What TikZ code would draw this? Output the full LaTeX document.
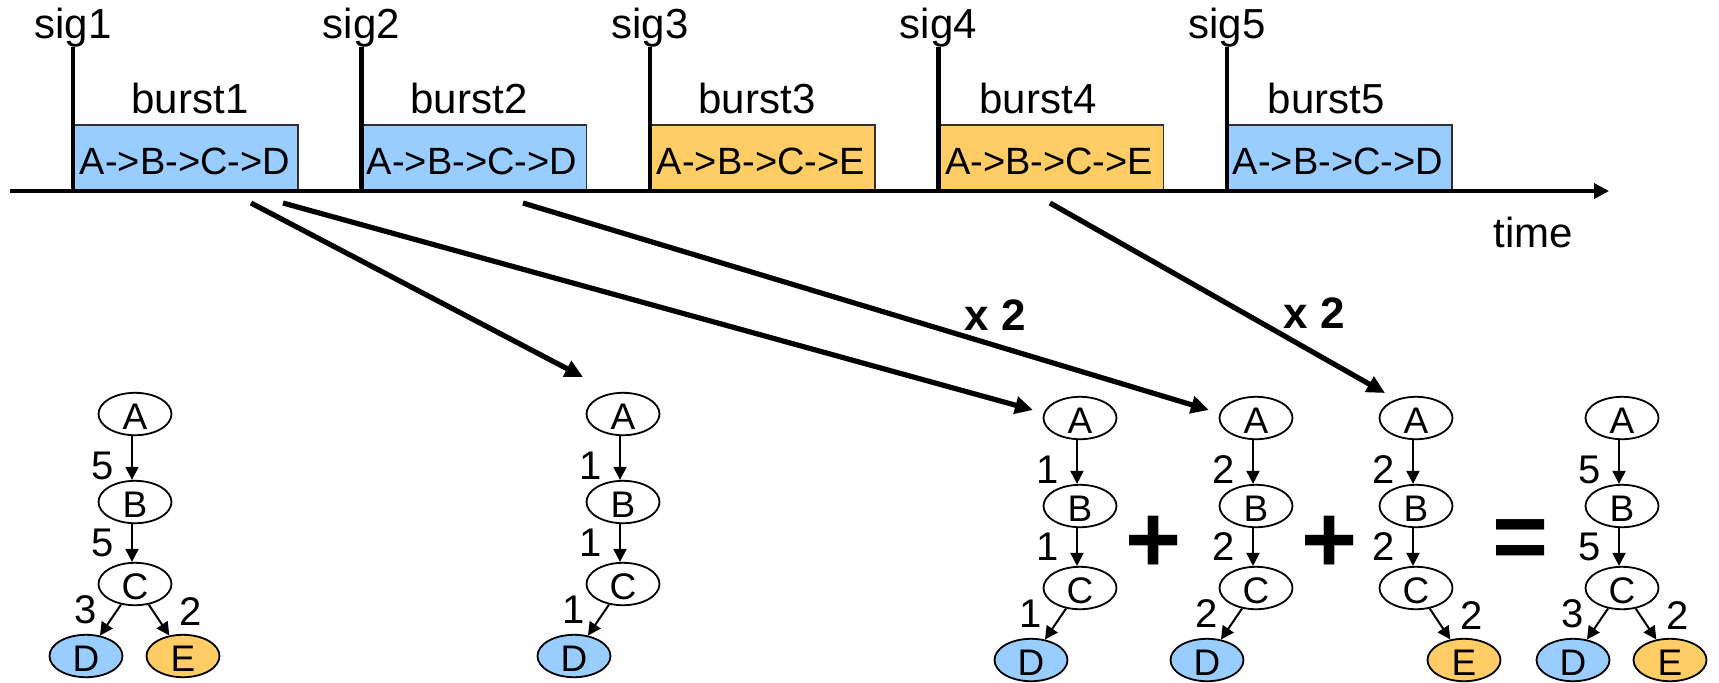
\documentclass[tikz,border=0pt]{standalone}
\usepackage{fontspec}
\setmainfont{Liberation Sans}
\usetikzlibrary{arrows.meta,shapes.geometric,calc}

\definecolor{burstblue}{HTML}{99CCFF}
\definecolor{burstorange}{HTML}{FFCC66}
\definecolor{boxedge}{HTML}{303030}

\tikzset{
  sigline/.style={line width=2.25pt},
  timeaxis/.style={line width=1.75pt, -{Triangle[length=7.5pt,width=7.5pt]}},
  burstbox/.style={draw=boxedge, line width=0.8pt, rectangle, inner sep=0pt,
                   minimum width=112pt, minimum height=32.5pt, anchor=south west},
  toplabel/.style={font=\fontsize{21}{25}\selectfont, anchor=base, inner sep=0pt},
  pathlabel/.style={font=\fontsize{19}{23}\selectfont, anchor=base, inner sep=0pt},
  state/.style={ellipse, draw, line width=0.9pt, minimum width=36.5pt,
                minimum height=19.5pt, inner sep=0pt,
                font=\fontsize{18.5}{21}\selectfont, text height=15pt, text depth=0pt},
  dnode/.style={state, fill=burstblue},
  enode/.style={state, fill=burstorange},
  flow/.style={line width=1pt, -{Triangle[length=6.5pt,width=6.5pt]}},
  weight/.style={font=\fontsize{20}{23}\selectfont, inner sep=0pt},
  bigarrow/.style={line width=2.6pt, -{Triangle[length=9pt,width=8.5pt]}},
  factor/.style={font=\bfseries\fontsize{22}{26}\selectfont, inner sep=0pt},
  op/.style={font=\bfseries\fontsize{48}{56}\selectfont, inner sep=0pt},
}

% A -> B -> C chain: prefix, x, y, weight A->B, weight B->C
\newcommand{\chainABC}[5]{%
  \node[state] (#1A) at (#2,#3) {A};
  \node[state] (#1B) at (#2,#3+88) {B};
  \node[state] (#1C) at (#2,#3+170) {C};
  \draw[flow] ([xshift=-1.5pt]#1A.south) -- ([xshift=-1.5pt]#1B.north);
  \draw[flow] ([xshift=-1.5pt]#1B.south) -- ([xshift=-1.5pt]#1C.north);
  \node[weight] (#1wab) at (#2-32,#3+52) {#4};
  \node[weight] (#1wbc) at (#2-32,#3+129) {#5};
}
% leaf D below C: prefix, x, y, weight
\newcommand{\leafD}[4]{%
  \node[dnode] (#1D) at (#2-49,#3+242) {D};
  \draw[flow] (#1C) -- (#1D);
  \node[weight] (#1wcd) at (#2-49,#3+196) {#4};
}
% leaf E below C: prefix, x, y, weight
\newcommand{\leafE}[4]{%
  \node[enode] (#1E) at (#2+48,#3+242) {E};
  \draw[flow] (#1C) -- (#1E);
  \node[weight] (#1wce) at (#2+56,#3+198) {#4};
}

\begin{document}
\begin{tikzpicture}[x=0.5pt,y=-0.5pt]
\useasboundingbox (0,0) rectangle (1719,682);

% bursts on the time axis
\node[burstbox, fill=burstblue]   (box1) at (73,191)     {};
\node[burstbox, fill=burstblue]   (box2) at (361.5,191)  {};
\node[burstbox, fill=burstorange] (box3) at (650,191)    {};
\node[burstbox, fill=burstorange] (box4) at (938.5,191)  {};
\node[burstbox, fill=burstblue]   (box5) at (1227,191)   {};

\node[pathlabel] (p1) at (185,174)    {A->B->C->D};
\node[pathlabel] (p2) at (472,174)    {A->B->C->D};
\node[pathlabel] (p3) at (761,174)    {A->B->C->E};
\node[pathlabel] (p4) at (1049,174)   {A->B->C->E};
\node[pathlabel] (p5) at (1338,174)   {A->B->C->D};

\node[toplabel] (bl1) at (190,113)    {burst1};
\node[toplabel] (bl2) at (469,113)    {burst2};
\node[toplabel] (bl3) at (757,113)    {burst3};
\node[toplabel] (bl4) at (1038,113)   {burst4};
\node[toplabel] (bl5) at (1326,113)   {burst5};

% time axis
\coordinate (t0) at (10,191);
\coordinate (tend) at (1609,191);
\draw[timeaxis] (t0) -- (tend);
\node[toplabel] (time) at (1533,247) {time};

% signals
\foreach \i/\x in {1/73,2/361.5,3/650,4/938.5,5/1227}{
  \coordinate (sigtop\i) at (\x,47);
  \coordinate (sigbot\i) at (\x,191);
  \draw[sigline] (sigbot\i) -- (sigtop\i);
  \node[toplabel] (sig\i) at (\x,38) {sig\i};
}

% path counts
\chainABC{g1}{135}{414}{5}{5}
\leafD{g1}{135}{414}{3}
\leafE{g1}{135}{414}{2}

\chainABC{g2}{623}{414}{1}{1}
\leafD{g2}{623}{414}{1}

\chainABC{g3}{1080}{418}{1}{1}
\leafD{g3}{1080}{418}{1}

\chainABC{g4}{1256}{418}{2}{2}
\leafD{g4}{1256}{418}{2}

\chainABC{g5}{1416}{418}{2}{2}
\leafE{g5}{1416}{418}{2}

\chainABC{g6}{1622}{418}{5}{5}
\leafD{g6}{1622}{418}{3}
\leafE{g6}{1622}{418}{2}

\node[op] (plus1) at (1154,544) {+};
\node[op] (plus2) at (1330,544) {+};
\node[op] (equals) at (1521,545) {=};

% bursts mapped to their graphs
\coordinate (s1) at (251,203);  \coordinate (e1) at (583,377);
\coordinate (s2) at (283,203);  \coordinate (e2) at (1033,410);
\coordinate (s3) at (523,203);  \coordinate (e3) at (1209,410);
\coordinate (s4) at (1050,203); \coordinate (e4) at (1385,393);
\draw[bigarrow] (s1) -- (e1);
\draw[bigarrow] (s2) -- (e2);
\draw[bigarrow] (s3) -- (e3);
\draw[bigarrow] (s4) -- (e4);

\node[factor] (x2a) at (995,315)  {x 2};
\node[factor] (x2b) at (1314,313) {x 2};
\end{tikzpicture}
\end{document}
